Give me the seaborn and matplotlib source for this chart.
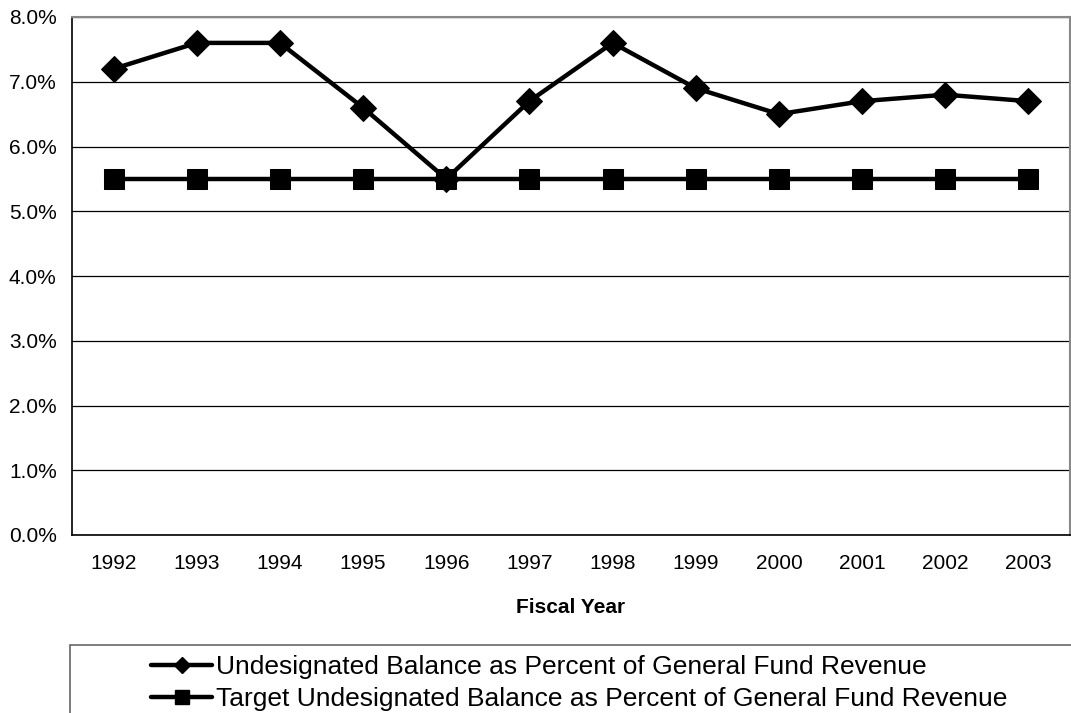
import matplotlib
matplotlib.use("Agg")
import matplotlib.pyplot as plt
import seaborn as sns
import pandas as pd
from matplotlib.lines import Line2D
from matplotlib.patches import Rectangle
from matplotlib.ticker import FuncFormatter, MultipleLocator

# данные с графика
years = ["1992", "1993", "1994", "1995", "1996", "1997",
         "1998", "1999", "2000", "2001", "2002", "2003"]
actual = [7.2, 7.6, 7.6, 6.6, 5.5, 6.7, 7.6, 6.9, 6.5, 6.7, 6.8, 6.7]
target = [5.5] * 12

label_actual = "Undesignated Balance as Percent of General Fund Revenue"
label_target = "Target Undesignated Balance as Percent of General Fund Revenue"

sns.set_style("white")
plt.rcParams["font.family"] = ["Liberation Sans", "DejaVu Sans"]
plt.rcParams["text.color"] = "black"
plt.rcParams["axes.labelcolor"] = "black"
plt.rcParams["xtick.color"] = "black"
plt.rcParams["ytick.color"] = "black"

df = pd.DataFrame({"year": years, "pos": range(len(years)),
                   "actual": actual, "target": target})

fig = plt.figure(figsize=(10.71, 7.13), dpi=100)
ax = fig.add_axes([72 / 1071, 178 / 713, 998 / 1071, 518 / 713])

sns.lineplot(data=df, x="pos", y="actual", ax=ax, color="black", lw=3.2,
             marker="D", markersize=13, markeredgecolor="black", zorder=3)
sns.lineplot(data=df, x="pos", y="target", ax=ax, color="black", lw=3.2,
             marker="s", markersize=15, markeredgecolor="black", zorder=4)

ax.set_xlim(-0.5, len(years) - 0.5)
ax.set_ylim(0, 8)
ax.yaxis.set_major_locator(MultipleLocator(1))
ax.yaxis.set_major_formatter(FuncFormatter(lambda v, p: f"{v:.1f}%"))
ax.grid(axis="y", color="black", lw=0.9)
ax.set_axisbelow(True)

# подписи лет по центру, засечки между категориями
ax.set_xticks(range(len(years)))
ax.set_xticklabels(years)
ax.set_xticks([i - 0.5 for i in range(len(years) + 1)], minor=True)
ax.tick_params(axis="x", which="major", length=0, pad=14, labelsize=15)
ax.tick_params(axis="x", which="minor", length=6, width=1, color="black",
               direction="out")
ax.tick_params(axis="y", length=6, width=1, color="black", direction="out",
               labelsize=15, pad=5)

for side in ["left", "bottom"]:
    ax.spines[side].set_color("black")
    ax.spines[side].set_linewidth(1.2)
for side in ["top", "right"]:
    ax.spines[side].set_color("#888888")
    ax.spines[side].set_linewidth(1.5)

ax.set_xlabel("Fiscal Year", fontsize=15, fontweight="bold", labelpad=18)
ax.set_ylabel("")

# рамка легенды уходит за край картинки
fig.patches.append(Rectangle((70 / 1071, -0.1), 1.0, (713 - 645) / 713 + 0.1,
                             transform=fig.transFigure, fill=False,
                             edgecolor="#666666", lw=1.2))

handles = [
    Line2D([], [], color="black", lw=3.2, marker="D", markersize=8),
    Line2D([], [], color="black", lw=3.2, marker="s", markersize=10),
]
fig.legend(handles, [label_actual, label_target], loc="upper left",
           bbox_to_anchor=(138 / 1071, 1 - 642 / 713), frameon=False,
           fontsize=19, handlelength=2.3, handletextpad=0.15,
           labelspacing=0.3, borderpad=0)

fig.savefig("out.png", dpi=100)
